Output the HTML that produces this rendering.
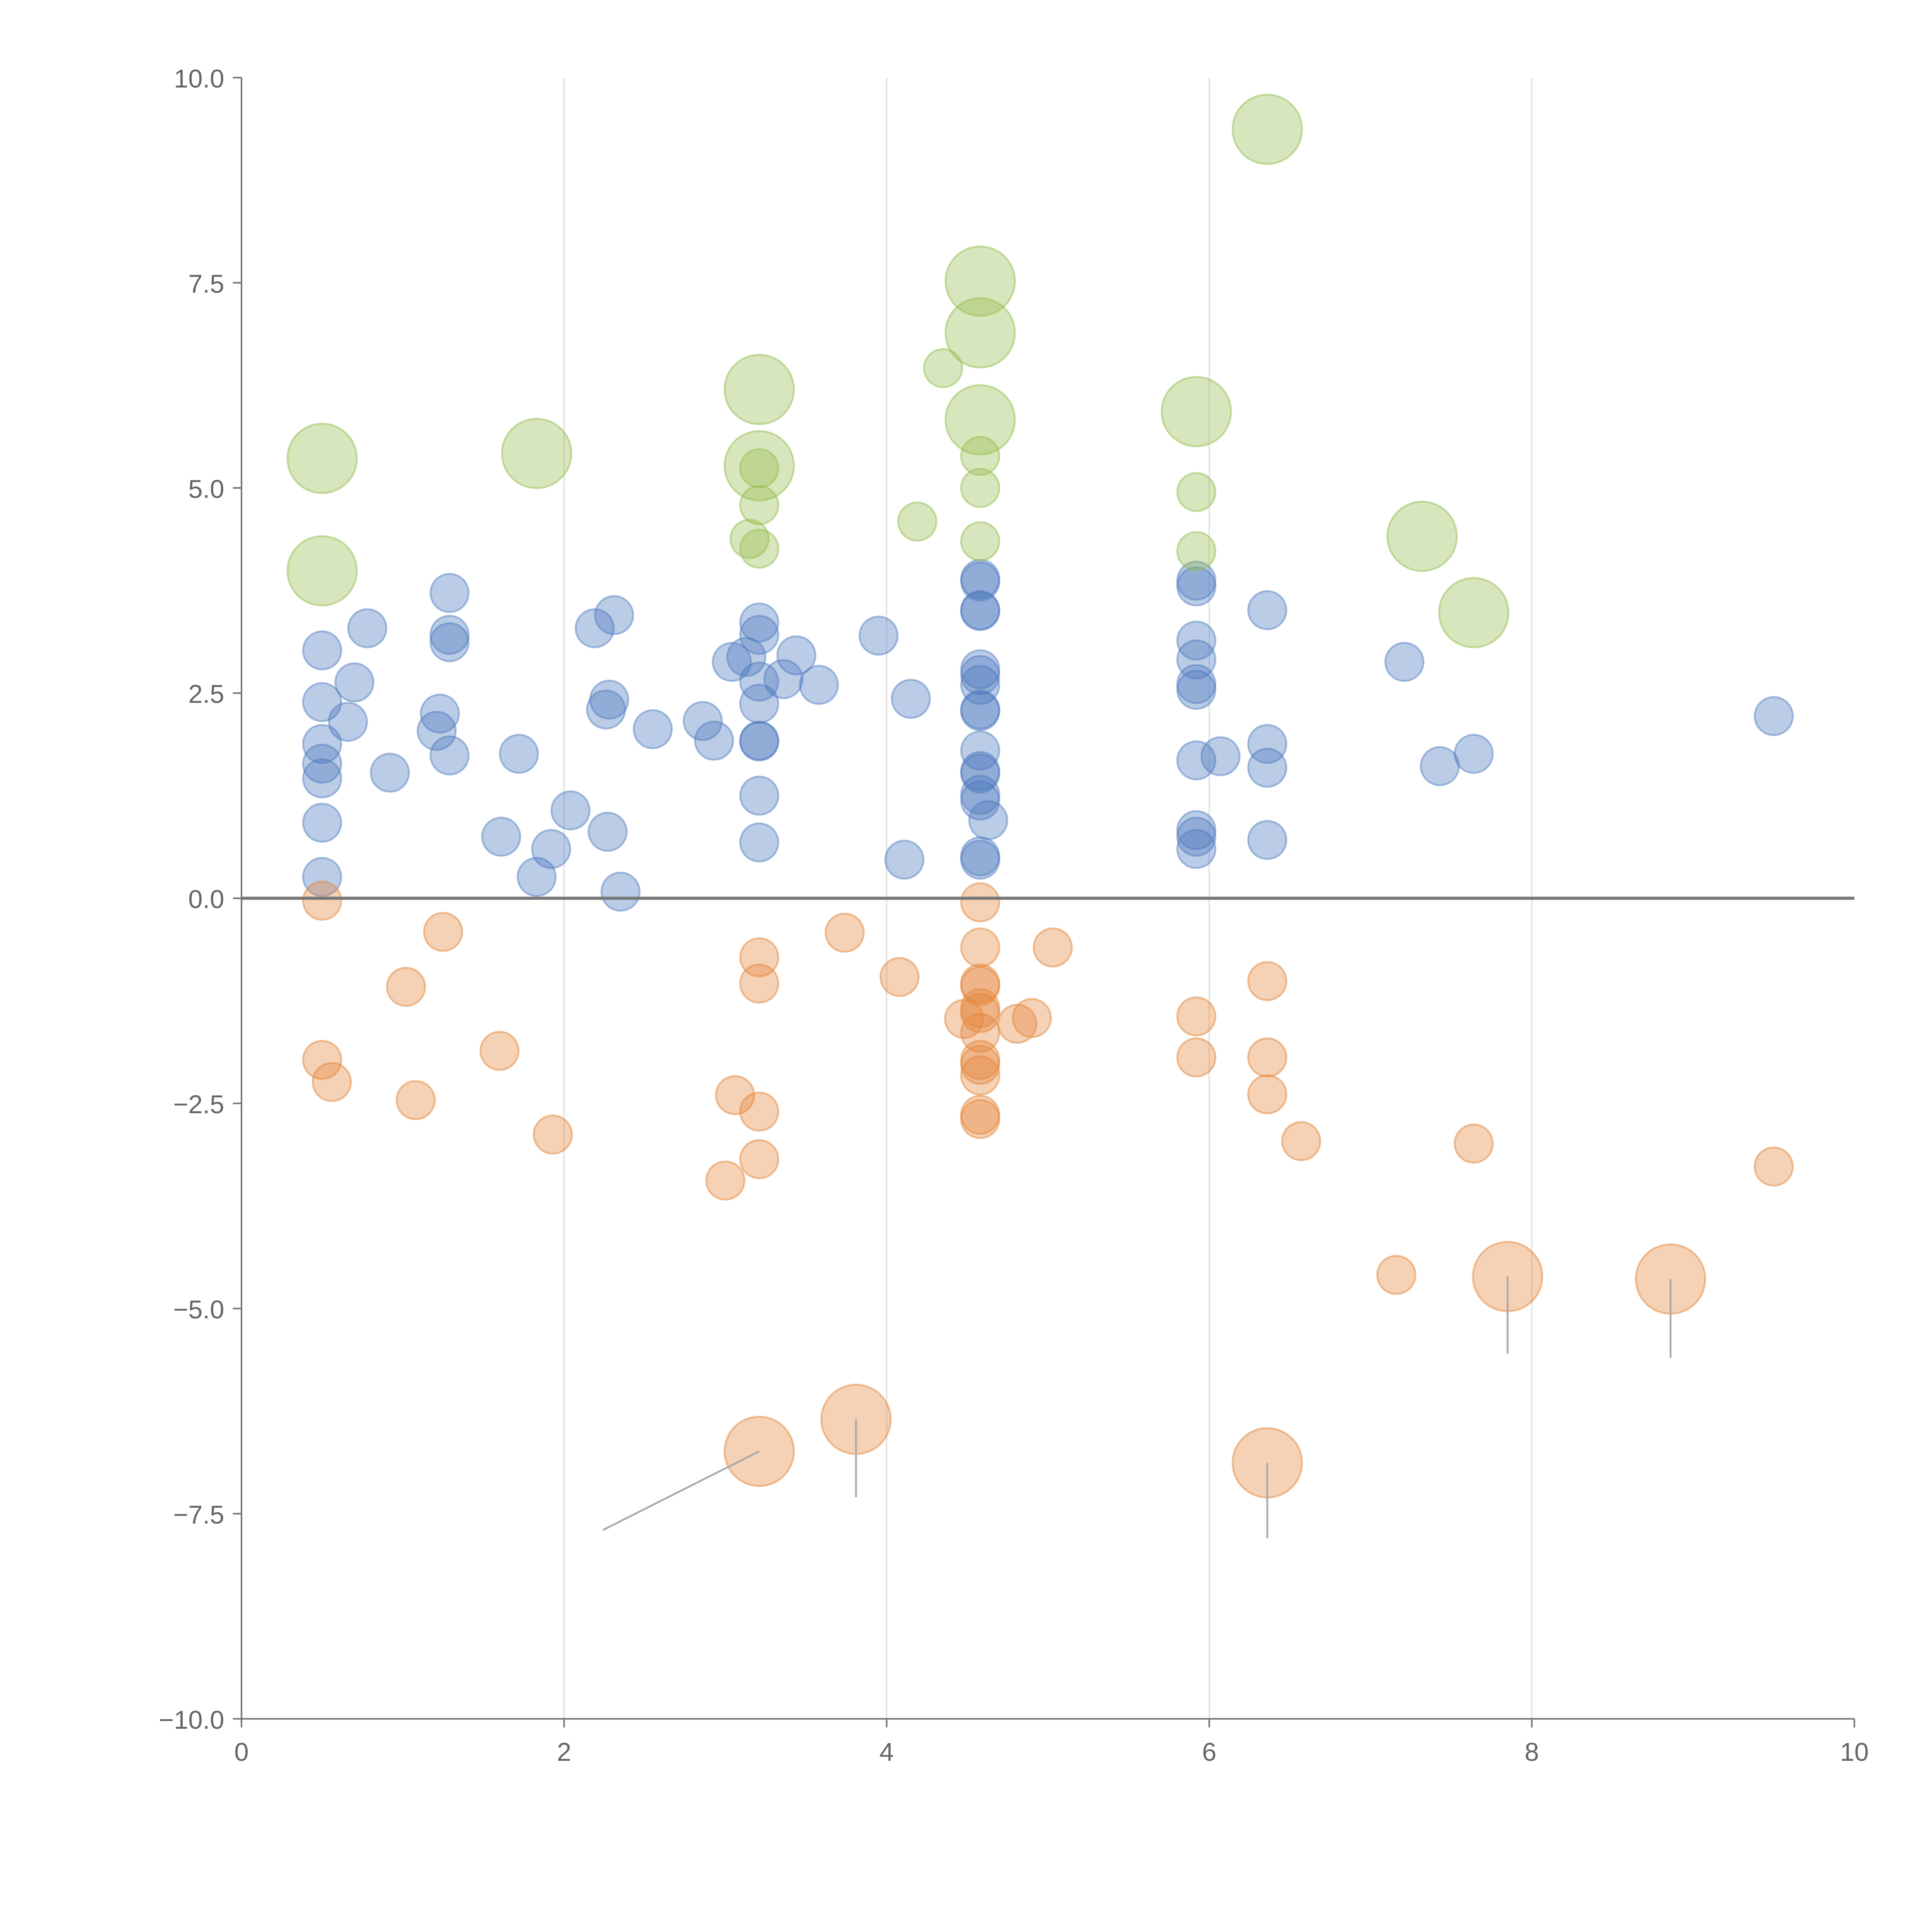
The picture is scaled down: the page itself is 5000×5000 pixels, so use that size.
<!DOCTYPE html>
<html><head><meta charset="utf-8">
<style>
html,body{margin:0;padding:0;background:#fff;}
svg{display:block;}
text{font-family:"Liberation Sans",sans-serif;fill:#666;}
</style></head>
<body>
<svg id="chart" width="5000" height="5000" viewBox="0 0 1568 1568" xmlns="http://www.w3.org/2000/svg">
<g id="grid"></g>
<g id="axes"></g>
<g id="marks"></g>
</svg>
<script>
const blueX=[0.50,0.50,0.50,0.50,0.50,0.50,0.50,0.70,0.66,0.78,0.92,1.29,1.29,1.29,1.23,1.21,1.29,1.72,1.61,1.92,1.83,2.04,2.19,2.31,2.28,2.26,2.27,2.35,2.55,2.86,2.93,3.04,3.13,3.21,3.21,3.21,3.21,3.21,3.21,3.21,3.21,3.36,3.44,3.58,3.95,4.15,4.11,4.58,4.58,4.58,4.58,4.58,4.58,4.58,4.58,4.58,4.58,4.58,4.58,4.58,4.58,4.63,4.58,4.58,5.92,5.92,5.92,5.92,5.92,5.92,5.92,6.07,5.92,5.92,5.92,6.36,6.36,6.36,6.36,7.21,7.43,7.64,9.50];
const blueY=[3.02,2.39,1.88,1.64,1.46,0.92,0.26,2.63,2.15,3.29,1.53,3.72,3.21,3.12,2.25,2.04,1.74,1.76,0.75,0.60,0.26,1.07,3.29,3.45,2.42,2.30,0.81,0.08,2.06,2.16,1.92,2.88,2.94,3.36,3.21,2.64,2.37,1.92,1.91,1.25,0.68,2.67,2.96,2.60,3.20,2.43,0.47,3.89,3.86,3.51,3.50,2.79,2.72,2.60,2.30,2.28,1.80,1.55,1.52,1.26,1.19,0.95,0.51,0.47,3.87,3.80,3.14,2.91,2.61,2.54,1.68,1.73,0.83,0.75,0.60,3.51,1.88,1.59,0.71,2.88,1.61,1.76,2.22];
const orangeX=[0.50,1.25,1.02,0.50,0.56,1.08,1.60,1.93,3.00,3.06,3.21,3.21,3.21,3.21,3.74,4.08,4.58,4.58,4.58,4.58,4.58,4.58,4.48,4.58,4.81,4.90,4.58,4.58,4.58,4.58,4.58,5.03,5.92,5.92,6.36,6.36,6.36,6.57,7.64,9.50,7.16,3.21,3.81,6.36,7.85,8.86];
const orangeY=[-0.03,-0.41,-1.08,-1.97,-2.24,-2.46,-1.86,-2.88,-3.44,-2.40,-0.72,-1.04,-2.60,-3.18,-0.42,-0.96,-0.05,-0.60,-1.04,-1.07,-1.34,-1.40,-1.47,-1.64,-1.53,-1.46,-1.97,-2.03,-2.16,-2.64,-2.69,-0.60,-1.44,-1.94,-1.01,-1.94,-2.39,-2.96,-2.99,-3.27,-4.59,-6.74,-6.35,-6.88,-4.61,-4.64];
const orangeS=[1,1,1,1,1,1,1,1,1,1,1,1,1,1,1,1,1,1,1,1,1,1,1,1,1,1,1,1,1,1,1,1,1,1,1,1,1,1,1,1,1,3.3,3.3,3.3,3.3,3.3];
const greenX=[0.50,0.50,1.83,3.21,3.21,4.58,4.58,4.58,5.92,6.36,7.32,7.64,3.21,3.21,3.15,3.21,4.35,4.19,4.58,4.58,4.58,5.92,5.92];
const greenY=[5.36,3.99,5.42,6.20,5.27,7.52,6.89,5.83,5.93,9.37,4.41,3.48,5.24,4.79,4.38,4.26,6.46,4.59,5.39,5.00,4.35,4.95,4.23];
const greenS=[3.3,3.3,3.3,3.3,3.3,3.3,3.3,3.3,3.3,3.3,3.3,3.3,1,1,1,1,1,1,1,1,1,1,1];
const leaderFromX=[3.21,3.81,6.36,7.85,8.86];
const leaderFromY=[-6.74,-6.35,-6.88,-4.61,-4.64];
const leaderToX=[2.24,3.81,6.36,7.85,8.86];
const leaderToY=[-7.70,-7.30,-7.80,-5.55,-5.60];
const xTicks=[0,2,4,6,8,10];
const yTicks=[10,7.5,5,2.5,0,-2.5,-5,-7.5,-10];
const yTickLabels=["10.0","7.5","5.0","2.5","0.0","\u22122.5","\u22125.0","\u22127.5","\u221210.0"];

const NS="http://www.w3.org/2000/svg";
const X0=196,X1=1505,Y0=1395,Y1=63;
function sx(v){return X0+(v-0)/(10-0)*(X1-X0);}
function sy(v){return Y0-(v+10)/20*(Y0-Y1);}
function sr(s){return 15.5*Math.sqrt(s);}
function mk(tag,attrs,parent){const e=document.createElementNS(NS,tag);for(const k in attrs)e.setAttribute(k,attrs[k]);parent.appendChild(e);return e;}
const grid=document.getElementById('grid'),axes=document.getElementById('axes'),marks=document.getElementById('marks');

xTicks.forEach((t,i)=>{
  if(t>0&&t<10){const g=mk('line',{x1:sx(t),x2:sx(t),y1:Y1,y2:Y0,stroke:'#ddd','stroke-width':1},grid);
  
  }
  const tk=mk('line',{x1:sx(t),x2:sx(t),y1:Y0,y2:Y0+7,stroke:'#777','stroke-width':1.3},axes);
  
  
  const tx=mk('text',{x:sx(t),y:Y0+34,'text-anchor':'middle','font-size':21},axes);
  tx.textContent=String(t);
  
  
});
yTicks.forEach((t,i)=>{
  const tk=mk('line',{x1:X0-7,x2:X0,y1:sy(t),y2:sy(t),stroke:'#777','stroke-width':1.3},axes);
  
  
  const tx=mk('text',{x:X0-14,y:sy(t)+8,'text-anchor':'end','font-size':21},axes);
  tx.textContent=yTickLabels[i];
  
  
});
const xa=mk('line',{x1:X0,x2:X1,y1:Y0,y2:Y0,stroke:'#777','stroke-width':1.3},axes);


const ya=mk('line',{x1:X0,x2:X0,y1:Y1,y2:Y0,stroke:'#777','stroke-width':1.3},axes);



function series(xs,ys,ss,fill,stroke,name){
  xs.forEach((x,i)=>{
    const c=mk('circle',{cx:sx(x),cy:sy(ys[i]),r:sr(ss?ss[i]:1),fill:fill,stroke:stroke,'stroke-width':1.5},marks);
    
    
  });
}
series(blueX,blueY,null,'rgba(76,120,190,0.38)','rgba(76,120,190,0.45)','blue-bubble');
series(orangeX,orangeY,orangeS,'rgba(228,135,60,0.38)','rgba(228,135,60,0.5)','orange-bubble');
series(greenX,greenY,greenS,'rgba(150,190,80,0.38)','rgba(150,190,80,0.5)','green-bubble');

const zl=mk('line',{x1:X0,x2:X1,y1:sy(0),y2:sy(0),stroke:'#777','stroke-width':2.5},marks);



leaderFromX.forEach((x,i)=>{
  const l=mk('line',{x1:sx(x),y1:sy(leaderFromY[i]),x2:sx(leaderToX[i]),y2:sy(leaderToY[i]),stroke:'#aaa','stroke-width':1.5},marks);
  
  
});
</script>
</body></html>
